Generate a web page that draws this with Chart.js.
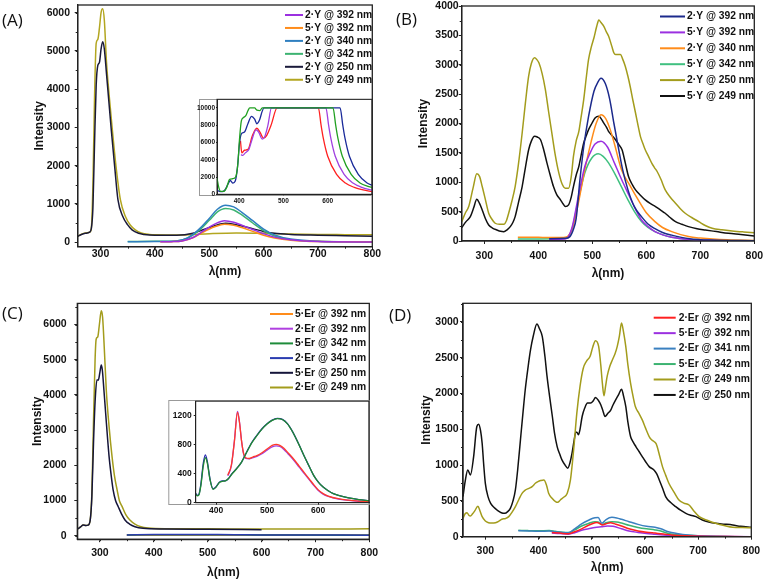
<!DOCTYPE html>
<html>
<head>
<meta charset="utf-8">
<script src="https://cdn.jsdelivr.net/npm/chart.js@4"></script>
<style>
  body { margin: 0; background: #fff; width: 764px; height: 580px; position: relative; overflow: hidden; }
  canvas { position: absolute; }
  .tag { position: absolute; font: 17px "Open Sans", sans-serif; line-height: 22px; color: #111; }
</style>
</head>
<body>
<canvas id="cA" width="382" height="290" style="left:0;top:0"></canvas>
<canvas id="cB" width="382" height="290" style="left:382px;top:0"></canvas>
<canvas id="cC" width="382" height="290" style="left:0;top:290px"></canvas>
<canvas id="cD" width="382" height="290" style="left:382px;top:290px"></canvas>
<canvas id="iA" width="176" height="115" style="left:197px;top:97px"></canvas>
<canvas id="iC" width="205" height="122" style="left:166px;top:398px"></canvas>
<div class="tag" style="left:2px;top:9px">(A)</div>
<div class="tag" style="left:396px;top:8px">(B)</div>
<div class="tag" style="left:2px;top:302px">(C)</div>
<div class="tag" style="left:389px;top:304px">(D)</div>
<script>
// ---- tick labels ----
const xTicksMain = [300, 400, 500, 600, 700, 800];
const yTicksA = [0, 1000, 2000, 3000, 4000, 5000, 6000];
const yTicksB = [0, 500, 1000, 1500, 2000, 2500, 3000, 3500, 4000];
const yTicksC = [0, 1000, 2000, 3000, 4000, 5000, 6000];
const yTicksD = [0, 500, 1000, 1500, 2000, 2500, 3000];
const xTicksInset = [400, 500, 600];
const yTicksInsetA = [0, 2000, 4000, 6000, 8000, 10000];
const yTicksInsetC = [0, 400, 800, 1200];

// ---- panel A: [wavelength nm, intensity] ----
const A_2Y392 = [[410,8],[430,12],[450,30],[470,120],[490,300],[510,470],[528,560],[545,520],[560,440],[580,330],[600,220],[620,130],[650,60],[700,15],[800,5]];
const A_5Y392 = [[410,8],[430,12],[450,30],[470,110],[490,270],[510,400],[528,470],[545,440],[560,380],[580,280],[600,180],[620,110],[650,50],[700,15],[800,5]];
const A_2Y340 = [[350,10],[400,15],[440,30],[460,110],[480,320],[500,620],[515,860],[530,965],[545,920],[560,780],[580,560],[600,340],[620,190],[650,80],[700,25],[750,10],[800,5]];
const A_5Y342 = [[350,15],[400,20],[440,30],[460,100],[480,290],[500,570],[515,790],[530,880],[545,840],[560,710],[580,500],[600,300],[620,160],[650,65],[700,20],[750,8],[800,5]];
const A_2Y250 = [[258,150],[265,200],[272,230],[280,260],[283,350],[286,900],[289,2600],[292,4100],[295,4620],[298,4700],[301,5050],[304,5240],[307,5050],[311,4400],[315,3730],[320,2900],[326,1980],[332,1110],[341,670],[350,450],[358,320],[370,230],[380,200],[400,180],[440,180],[470,230],[490,330],[510,430],[530,490],[545,470],[560,420],[580,350],[600,280],[620,230],[650,200],[700,180],[750,165],[800,150]];
const A_5Y249 = [[258,150],[265,210],[272,240],[280,260],[283,350],[286,1500],[289,3800],[292,5200],[295,5300],[298,5600],[301,6000],[304,6100],[307,5800],[311,4700],[316.6,3730],[322,2900],[328.5,1980],[336.5,1110],[345.8,670],[355,440],[364,320],[375,240],[390,200],[400,190],[450,185],[500,220],[550,240],[600,230],[650,210],[700,200],[750,195],[800,190]];

// ---- inset of panel A ----
const IA_green = [[350,1900],[354,800],[358,350],[365,350],[372,800],[378,1700],[385,1800],[392,2000],[397,3500],[401,6500],[405,8500],[410,8900],[415,9100],[420,9700],[424,10000],[435,10000],[440,9750],[447,9700],[452,10000],[612,10000],[618,8000],[623,6500],[633,4400],[653,2300],[673,1300],[693,900],[700,800]];
const IA_navy = [[350,500],[355,350],[362,300],[368,500],[375,1200],[380,1600],[386,1300],[391,1500],[396,3000],[401,6000],[405,7000],[412,7200],[420,8200],[428,9030],[435,8700],[440,8170],[446,8600],[452,9600],[456,10000],[628,10000],[634,8000],[639,6500],[649,4400],[669,2300],[689,1300],[700,1050]];
const IA_purple = [[404,4600],[408,4500],[414,4800],[422,5200],[430,6500],[438,7450],[444,7200],[452,6400],[458,6700],[465,8000],[473,10000],[596,10000],[602,8000],[607,6500],[617,4400],[637,2300],[657,1300],[677,800],[700,480]];
const IA_red = [[403,6200],[406,4800],[412,5100],[420,5200],[430,6800],[440,7650],[447,7200],[455,6500],[462,6800],[472,8000],[486,10000],[579,10000],[585,8000],[590,6500],[600,4400],[620,2300],[640,1300],[660,800],[680,500],[700,300]];

// ---- panel B ----
const B_2Y392 = [[420,40],[450,45],[458,70],[465,200],[470,380],[477,1040],[484,1600],[493,2120],[503,2550],[510,2700],[516,2770],[524,2680],[532,2420],[540,2000],[548,1600],[556,1220],[566,870],[578,580],[591,415],[603,290],[616,210],[630,145],[647,100],[680,40],[720,15],[800,5]];
const B_5Y392 = [[420,30],[450,35],[462,216],[474,756],[486,1268],[496,1500],[505,1650],[516,1700],[528,1600],[541,1326],[554,1050],[566,814],[578,580],[591,358],[604,240],[616,160],[632,100],[647,62],[680,25],[720,10],[800,3]];
const B_2Y340 = [[362,65],[400,62],[440,60],[452,70],[462,190],[474,643],[486,1212],[498,1700],[507,2000],[516,2150],[525,2080],[533,1900],[541,1650],[554,1212],[570,940],[585,700],[600,480],[616,330],[630,230],[647,160],[678,75],[700,50],[750,20],[800,10]];
const B_5Y342 = [[362,35],[400,35],[440,38],[452,50],[462,188],[474,700],[486,1156],[499,1412],[511,1485],[520,1440],[530,1330],[541,1156],[554,920],[566,700],[578,500],[591,330],[603,230],[616,160],[632,100],[647,62],[680,25],[720,10],[800,5]];
const B_2Y250 = [[258,330],[265,480],[271,586],[279,900],[286,1144],[291,1100],[296,927],[302,700],[308,472],[314,370],[320,302],[328,285],[336,285],[341,350],[345,472],[351,680],[357,927],[363,1300],[370,1838],[376,2350],[382,2805],[387,3020],[393,3118],[397,3090],[401,3033],[407,2850],[413,2578],[419,2200],[425,1838],[431,1480],[438,1155],[444,970],[450,900],[456,900],[461,1100],[465,1440],[470,1700],[475,1866],[479,2100],[484,2407],[489,2800],[493,3090],[498,3300],[503,3460],[508,3650],[512,3761],[516,3720],[521,3659],[526,3560],[530,3488],[536,3317],[540,3200],[543,3175],[552,3175],[556,3100],[561,2976],[566,2800],[570,2634],[575,2400],[580,2179],[585,1950],[589,1781],[594,1650],[598,1553],[604,1440],[610,1326],[615,1250],[620,1183],[627,1050],[635,870],[644,750],[654,643],[663,550],[672,472],[684,400],[697,330],[710,260],[722,216],[740,190],[759,171],[780,155],[800,142]];
const B_5Y249 = [[258,228],[266,330],[274,415],[280,560],[286,711],[291,640],[296,529],[302,380],[308,273],[315,220],[323,188],[330,165],[336,159],[342,190],[348,245],[353,320],[357,415],[363,650],[370,927],[376,1250],[382,1553],[387,1700],[393,1781],[398,1770],[404,1724],[410,1550],[416,1326],[422,1120],[428,927],[434,790],[441,700],[446,630],[450,586],[456,614],[461,750],[465,927],[470,1120],[475,1269],[479,1450],[484,1667],[489,1800],[493,1895],[499,2000],[505,2094],[512,2122],[517,2070],[521,2009],[526,1940],[530,1866],[536,1800],[543,1724],[549,1640],[555,1553],[561,1330],[567,1098],[574,960],[580,870],[589,780],[598,700],[607,640],[617,586],[626,530],[635,472],[644,400],[654,330],[666,285],[678,245],[694,210],[709,188],[730,160],[752,131],[775,110],[800,85]];

// ---- panel C ----
const C_5Er392 = [[350,18],[450,22],[550,20],[650,16],[800,12]];
const C_2Er392 = [[350,18],[450,22],[550,20],[650,16],[800,12]];
const C_5Er342 = [[350,20],[450,28],[550,24],[650,18],[800,14]];
const C_2Er341 = [[350,22],[400,30],[450,36],[500,32],[550,28],[600,22],[700,18],[800,14]];
const C_5Er250 = [[258,180],[264,250],[269,300],[274,290],[278,300],[282,450],[285,1100],[288,2600],[291,3800],[294.4,4420],[297,4420],[300,4650],[302.5,4850],[304.5,4700],[307.4,4140],[312,3200],[317,2245],[321,1700],[324.5,1300],[329,1000],[334,824],[340,620],[346.5,446],[355,330],[365,256],[380,210],[420,190],[500,180],[600,170]];
const C_2Er249 = [[258,180],[264,250],[269,300],[274,290],[278,300],[282,450],[285,1200],[288,3190],[291,5000],[293,5580],[296,5650],[299,6000],[302.5,6392],[305,6200],[308.5,5200],[311.8,4140],[317,3100],[322.5,2245],[327,1700],[331.9,1300],[336,1000],[341.3,824],[348,600],[355.6,446],[365,330],[376,256],[390,220],[420,200],[500,195],[600,190],[700,190],[800,195]];

// ---- inset of panel C ----
const IC_blue = [[360,130],[363,100],[366,110],[370,250],[375,550],[379,660],[383,560],[388,330],[394,190],[400,220],[406,280],[412,300],[418,300],[424,330],[430,390],[440,470],[450,560],[460,700],[470,830],[480,930],[490,1020],[500,1090],[510,1140],[520,1162],[530,1150],[540,1090],[550,980],[563,796],[573,640],[583,497],[592,370],[601,281],[610,215],[620,165],[630,125],[640,100],[660,65],[680,42],[700,28]];
const IC_green = [[360,120],[363,95],[366,105],[370,230],[375,510],[379,620],[383,540],[388,320],[394,185],[400,215],[406,275],[412,295],[418,300],[424,330],[430,385],[440,465],[450,560],[460,695],[470,825],[480,925],[490,1015],[500,1085],[510,1135],[520,1160],[530,1148],[540,1088],[550,978],[563,794],[573,640],[583,497],[592,370],[601,281],[610,215],[620,165],[630,125],[640,100],[660,65],[680,42],[700,28]];
const IC_red = [[423,382],[430,520],[436,850],[442,1247],[446,1100],[450,850],[454,680],[458,620],[465,610],[472,630],[480,650],[490,690],[500,740],[510,790],[518,805],[525,790],[533,750],[541,690],[550,620],[563,505],[573,415],[583,325],[592,245],[600,180],[610,125],[620,92],[640,55],[660,35],[680,22],[700,15]];
const IC_purple = [[423,370],[430,510],[436,860],[442,1260],[446,1110],[450,850],[454,670],[458,610],[465,605],[472,620],[480,640],[490,675],[500,725],[510,770],[518,785],[525,775],[533,735],[541,675],[550,605],[563,490],[573,400],[583,315],[592,235],[600,172],[610,118],[620,87],[640,50],[660,32],[680,20],[700,13]];

// ---- panel D ----
const D_2Er392 = [[425,60],[440,50],[456,40],[468,70],[481,110],[494,160],[506,195],[510,200],[515,185],[520,165],[527,180],[535,195],[545,175],[556,150],[570,110],[587,80],[603,62],[619,50],[635,38],[650,25],[675,12],[700,5],[750,2],[800,0]];
const D_5Er392 = [[425,50],[440,45],[456,35],[468,55],[481,90],[494,110],[506,130],[518,140],[530,150],[540,145],[556,110],[570,80],[587,60],[603,45],[619,35],[635,25],[650,15],[675,8],[700,5],[800,0]];
const D_2Er341 = [[362,84],[380,80],[400,75],[420,78],[431,70],[445,60],[456,56],[468,110],[481,178],[494,230],[506,266],[512,268],[519,187],[527,240],[538,270],[547,262],[556,243],[570,210],[587,172],[603,145],[619,131],[630,110],[644,70],[660,45],[681,23],[710,10],[744,3],[800,0]];
const D_5Er342 = [[362,90],[380,85],[400,82],[420,85],[431,75],[445,62],[456,58],[468,95],[481,150],[494,185],[506,210],[512,205],[519,170],[527,195],[538,210],[547,205],[556,190],[570,160],[587,130],[603,110],[619,95],[630,80],[644,45],[660,30],[681,20],[710,10],[744,3],[800,0]];
const D_2Er249 = [[258,257],[262,320],[265.5,336],[269,300],[272,289],[276,320],[280,360],[286,425],[290,360],[294,280],[300,220],[306,196],[312,190],[319,196],[325,215],[331,243],[338,255],[344,280],[350,340],[356.5,420],[363,520],[369,606],[375,650],[382,676],[388,700],[394,746],[399,770],[404,784],[410,793],[415,720],[419,606],[425,540],[432,490],[436,480],[441,513],[447,550],[454,606],[460,793],[466,1213],[472,1726],[478,2100],[484,2350],[490,2450],[497,2520],[502,2650],[507,2738],[513,2658],[517,2400],[520,2145],[523,1968],[526,2100],[529,2239],[534,2380],[539,2472],[544,2560],[548,2658],[552,2800],[556,2985],[560,2850],[564,2658],[568,2400],[573,2145],[578,1950],[582,1819],[589,1720],[595,1632],[601,1520],[608,1399],[613,1350],[617,1329],[621,1300],[623,1259],[628,1120],[633,979],[639,860],[645,746],[655,620],[664,513],[673,470],[683,443],[692,360],[702,280],[717,230],[733,187],[749,155],[765,131],[783,128],[800,126]];
const D_2Er250 = [[258,560],[262,770],[267,933],[272,863],[278,1119],[284,1539],[287.5,1572],[291,1480],[294,1306],[297,1000],[300,746],[305,560],[310,466],[316,410],[322,373],[330,335],[336.5,326],[342,350],[347,396],[352,500],[356.5,653],[361,950],[366,1353],[371,1750],[375,2052],[380,2350],[385,2612],[390,2800],[397,2971],[402,2900],[407,2798],[412,2520],[416,2239],[421,1950],[426,1679],[430,1450],[435,1259],[440,1150],[444,1073],[450,1000],[455,956],[459,1030],[463,1166],[467,1350],[470,1460],[472,1460],[475,1423],[478,1500],[482,1679],[487,1800],[492,1866],[498,1866],[503,1900],[507,1945],[512,1910],[517,1842],[521,1760],[525,1679],[530,1720],[536,1772],[540,1840],[545,1912],[551,1990],[556,2061],[560,1960],[564,1819],[568,1600],[573,1399],[578,1320],[583,1259],[589,1190],[595,1119],[601,1050],[608,979],[617,933],[622,880],[627,793],[633,680],[639,560],[648,480],[658,420],[667,370],[677,326],[686,300],[696,280],[708,233],[720,205],[733,187],[750,175],[765,163],[780,145],[800,131]];

Chart.defaults.font.family = '"Liberation Sans", Arial, sans-serif';
Chart.defaults.color = '#111';

// frame, minor ticks, inset background and legend key
const framePlugin = {
  id: 'frame',
  beforeDraw(chart, args, o) {
    if (!o.bg) return;
    const ctx = chart.ctx;
    ctx.save();
    ctx.fillStyle = '#fff';
    ctx.fillRect(o.bg[0], o.bg[1], o.bg[2], o.bg[3]);
    ctx.strokeStyle = '#999';
    ctx.lineWidth = 1;
    ctx.strokeRect(o.bg[0] + 0.5, o.bg[1] + 0.5, o.bg[2] - 1, o.bg[3] - 1);
    ctx.restore();
  },
  afterDraw(chart, args, o) {
    const {ctx, chartArea: a, scales: {x, y}} = chart;
    ctx.save();
    ctx.strokeStyle = '#222';
    ctx.lineWidth = o.bw;
    ctx.strokeRect(a.left, a.top, a.right - a.left, a.bottom - a.top);
    ctx.lineWidth = 1;
    ctx.beginPath();
    if (o.minorX) {
      for (let v = Math.ceil(x.min / o.minorX) * o.minorX; v <= x.max; v += o.minorX) {
        const px = Math.round(x.getPixelForValue(v)) + 0.5;
        ctx.moveTo(px, a.bottom); ctx.lineTo(px, a.bottom + o.minorLen);
      }
    }
    if (o.minorY) {
      for (let v = Math.ceil(y.min / o.minorY) * o.minorY; v <= y.max; v += o.minorY) {
        const py = Math.round(y.getPixelForValue(v)) + 0.5;
        ctx.moveTo(a.left, py); ctx.lineTo(a.left - o.minorLen, py);
      }
    }
    ctx.stroke();
    if (o.key) {
      const k = o.key;
      ctx.font = 'bold ' + k.size + 'px "Liberation Sans", Arial, sans-serif';
      ctx.textBaseline = 'middle';
      chart.data.datasets.forEach((d, i) => {
        const yy = k.y + i * k.dy;
        ctx.strokeStyle = d.borderColor;
        ctx.lineWidth = 2;
        ctx.beginPath(); ctx.moveTo(k.x, yy); ctx.lineTo(k.x + k.len, yy); ctx.stroke();
        ctx.fillStyle = '#111';
        ctx.fillText(d.label, k.x + k.len + k.gap, yy);
      });
    }
    ctx.restore();
  }
};

function datasets(list, lw) {
  return list.map(([label, pts, color, order]) => ({
    label: label,
    data: pts.map(p => ({x: p[0], y: p[1]})),
    borderColor: color,
    backgroundColor: color,
    borderWidth: lw,
    pointRadius: 0,
    cubicInterpolationMode: 'monotone',
    fill: false,
    order: order || 0
  }));
}

function fixSize(size, horiz) {
  return s => {
    if (horiz) s.height = size; else s.width = size;
    s.paddingLeft = 0; s.paddingRight = 0; s.paddingTop = 0; s.paddingBottom = 0;
  };
}

function panel(id, p) {
  const tickFont = {size: p.tickSize, weight: 'bold', lineHeight: 1};
  const titleFont = {size: 12, weight: 'bold', lineHeight: 1.2};
  return new Chart(document.getElementById(id), {
    type: 'line',
    data: {datasets: datasets(p.series, p.lw)},
    options: {
      responsive: false,
      animation: false,
      events: [],
      layout: {padding: {left: 0, top: p.area[1], right: p.W - p.area[2], bottom: 0}},
      plugins: {
        legend: {display: false},
        tooltip: {enabled: false},
        frame: {bw: p.bw, minorX: p.minorX, minorY: p.minorY, minorLen: p.minorLen, key: p.key, bg: p.bg}
      },
      scales: {
        x: {
          type: 'linear', min: p.xr[0], max: p.xr[1],
          afterBuildTicks: s => { s.ticks = p.xt.map(v => ({value: v})); },
          afterFit: fixSize(p.H - p.area[3], true),
          grid: {drawOnChartArea: false, tickLength: p.tl, color: '#222'},
          border: {display: true, color: '#222', width: p.bw},
          ticks: {font: tickFont, color: '#111', padding: p.xPad, maxRotation: 0, autoSkip: false, callback: v => String(v)},
          title: {display: !!p.xTitle, text: p.xTitle, font: titleFont, color: '#111', padding: {top: 0, bottom: p.xTitlePad}}
        },
        y: {
          type: 'linear', min: p.yr[0], max: p.yr[1],
          afterBuildTicks: s => { s.ticks = p.yt.map(v => ({value: v})); },
          afterFit: fixSize(p.area[0], false),
          grid: {drawOnChartArea: false, tickLength: p.tl, color: '#222'},
          border: {display: true, color: '#222', width: p.bw},
          ticks: {font: tickFont, color: '#111', padding: p.yPad, autoSkip: false, callback: v => String(v)},
          title: {display: !!p.yTitle, text: p.yTitle, font: titleFont, color: '#111', padding: {top: p.yTitlePad, bottom: 0}}
        }
      }
    },
    plugins: [framePlugin]
  });
}

const mainDefaults = {W: 382, H: 290, xr: [258, 800], xt: xTicksMain, tickSize: 10.5, tl: 3, bw: 1.3, lw: 1.5,
  minorX: 50, minorLen: 2, xTitle: 'λ(nm)', yTitle: 'Intensity'};

panel('cA', Object.assign({}, mainDefaults, {
  area: [77.7, 5, 372.3, 246.7], yr: [-120, 6200], yt: yTicksA, minorY: 500,
  yPad: 4.7, xPad: -1, yTitlePad: 32.8, xTitlePad: 11.3,
  key: {x: 285, y: 15, dy: 12.95, len: 18, gap: 2, size: 10.3},
  series: [
    ['2·Y @ 392 nm', A_2Y392, '#9b30e0'],
    ['5·Y @ 392 nm', A_5Y392, '#ff8c1a'],
    ['2·Y @ 340 nm', A_2Y340, '#2f7fc0'],
    ['5·Y @ 342 nm', A_5Y342, '#3cb371'],
    ['2·Y @ 250 nm', A_2Y250, '#1a1a3a'],
    ['5·Y @ 249 nm', A_5Y249, '#b3a620']
  ]
}));

panel('cB', Object.assign({}, mainDefaults, {
  area: [79.7, 6, 372.3, 241], yr: [0, 4000], yt: yTicksB, minorY: 250,
  yPad: 0, xPad: 6.75, yTitlePad: 34.5, xTitlePad: 8.8,
  key: {x: 278, y: 16.5, dy: 15.9, len: 25, gap: 2, size: 10.3},
  series: [
    ['2·Y @ 392 nm', B_2Y392, '#1c2a8c'],
    ['5·Y @ 392 nm', B_5Y392, '#9b30e0'],
    ['2·Y @ 340 nm', B_2Y340, '#ff8c1a'],
    ['5·Y @ 342 nm', B_5Y342, '#40c080'],
    ['2·Y @ 250 nm', B_2Y250, '#a39c1c'],
    ['5·Y @ 249 nm', B_5Y249, '#111111']
  ]
}));

panel('cC', Object.assign({}, mainDefaults, {
  area: [77.3, 13.4, 369.3, 249.2], yr: [-100, 6600], yt: yTicksC, minorY: 500,
  yPad: 7.6, xPad: 5.85, yTitlePad: 30.8, xTitlePad: 0,
  key: {x: 270, y: 24, dy: 14.7, len: 23, gap: 2, size: 10.3},
  series: [
    ['5·Er @ 392 nm', C_5Er392, '#ff8c1a', 2],
    ['2·Er @ 392 nm', C_2Er392, '#b040e0', 2],
    ['5·Er @ 342 nm', C_5Er342, '#1e8c3a', 1],
    ['2·Er @ 341 nm', C_2Er341, '#2a3cb0', 0],
    ['5·Er @ 250 nm', C_5Er250, '#15153a', 0],
    ['2·Er @ 249 nm', C_2Er249, '#a39c1c', 0]
  ]
}));

panel('cD', Object.assign({}, mainDefaults, {
  area: [81, 13.3, 369.3, 246.7], yr: [0, 3260], yt: yTicksD, minorY: 250,
  yPad: 1.3, xPad: 6, yTitlePad: 37.1, xTitlePad: 5.3,
  key: {x: 271.7, y: 27.7, dy: 15.45, len: 22, gap: 3, size: 10.3},
  series: [
    ['2·Er @ 392 nm', D_2Er392, '#ff2020'],
    ['5·Er @ 392 nm', D_5Er392, '#9b30e0'],
    ['2·Er @ 341 nm', D_2Er341, '#3a80c0'],
    ['5·Er @ 342 nm', D_5Er342, '#3cb371'],
    ['2·Er @ 249 nm', D_2Er249, '#a39c1c'],
    ['2·Er @ 250 nm', D_2Er250, '#111111']
  ]
}));

// insets
panel('iA', {
  W: 176, H: 115, area: [20, 2.3, 175, 97.3], xr: [350, 700], yr: [0, 11000],
  xt: xTicksInset, yt: yTicksInsetA, tickSize: 6.5, tl: 1, bw: 1, lw: 1.3,
  yPad: 1, xPad: 2.5, bg: [2, 2, 173, 97],
  series: [
    ['green', IA_green, '#20a020'],
    ['navy', IA_navy, '#1a2a9a'],
    ['purple', IA_purple, '#a040e0'],
    ['red', IA_red, '#ff2020']
  ]
});

panel('iC', {
  W: 205, H: 122, area: [29.7, 3.2, 203, 104.7], xr: [360, 700], yr: [0, 1400],
  xt: xTicksInset, yt: yTicksInsetC, tickSize: 8.5, tl: 2, bw: 1, lw: 1.3,
  yPad: 2, xPad: 2, bg: [2.3, 2, 201, 105],
  series: [
    ['blue', IC_blue, '#2020b0', 1],
    ['green', IC_green, '#208a30', 0],
    ['red', IC_red, '#ff3a2a', 0],
    ['purple', IC_purple, '#a040e0', 1]
  ]
});
</script>
</body>
</html>
